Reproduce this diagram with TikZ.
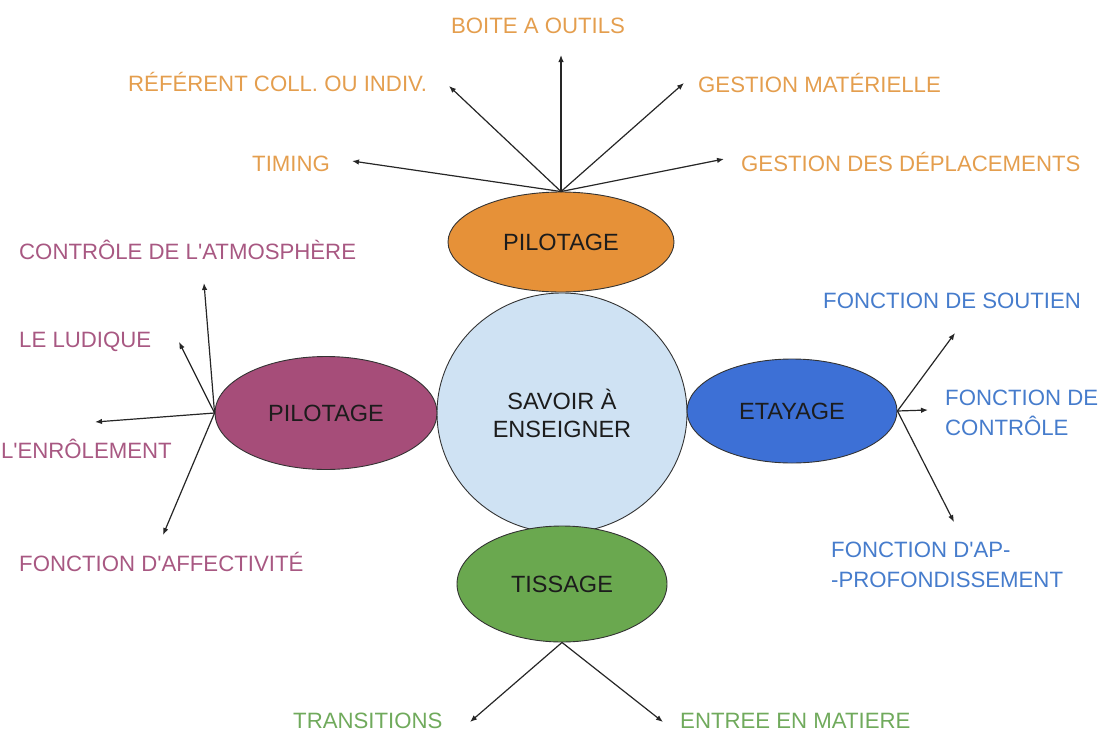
\documentclass[tikz,border=0pt]{standalone}
\usepackage{fontspec}
\setmainfont{Liberation Sans}
\newfontfamily\lib{Liberation Sans}
\usetikzlibrary{shapes.geometric,arrows.meta}
\definecolor{cOrange}{RGB}{230,145,56}
\definecolor{cPurple}{RGB}{166,77,121}
\definecolor{cCore}{RGB}{207,226,243}
\definecolor{cBlue}{RGB}{61,112,214}
\definecolor{cGreen}{RGB}{106,168,79}
\definecolor{tOrange}{RGB}{228,158,78}
\definecolor{tPurple}{RGB}{168,88,130}
\definecolor{tBlue}{RGB}{70,124,204}
\definecolor{tGreen}{RGB}{112,170,92}
\definecolor{txt}{RGB}{28,28,28}
\begin{document}
\begin{tikzpicture}[x=1pt,y=-1pt,
  arr/.style={draw=black!85,line width=1.2pt,-{Latex[length=7pt,width=5.5pt]}},
  blob/.style={ellipse,draw=black!80,line width=0.9pt,inner sep=0pt,text=txt,
    font=\lib\fontsize{23.5}{28}\selectfont,align=center},
  lab/.style={font=\lib\fontsize{22.2}{29.5}\selectfont,inner sep=0pt,align=left},
]
\useasboundingbox (0,0) rectangle (1098,731);
\clip (0,0) rectangle (1098,731);

% central shapes
\node[blob,fill=cCore,minimum width=250pt,minimum height=240pt] (core) at (562,413) {SAVOIR À\\ENSEIGNER};
\node[blob,fill=cOrange,minimum width=226pt,minimum height=100pt] (ptop) at (561,242) {PILOTAGE};
\node[blob,fill=cPurple,minimum width=222pt,minimum height=113pt] (pleft) at (326,413) {PILOTAGE};
\node[blob,fill=cBlue,minimum width=210pt,minimum height=104pt] (eta) at (792,411) {ETAYAGE};
\node[blob,fill=cGreen,minimum width=210pt,minimum height=116pt] (tis) at (562,584) {TISSAGE};

% arrow end points
\coordinate (tBoite) at (561,55);
\coordinate (tRef) at (449,86);
\coordinate (tMat) at (684,83);
\coordinate (tTim) at (352,161);
\coordinate (tDep) at (724,159);
\coordinate (lAtm) at (204,283);
\coordinate (lLud) at (179,342);
\coordinate (lEnr) at (95,422);
\coordinate (lAff) at (163,535);
\coordinate (rSou) at (955,333);
\coordinate (rCon) at (928,410);
\coordinate (rApp) at (954,522);
\coordinate (bTra) at (470,722);
\coordinate (bEnt) at (663,722);

\foreach \e in {tBoite,tRef,tMat,tTim,tDep} \draw[arr] (ptop.north) -- (\e);
\foreach \e in {lAtm,lLud,lEnr,lAff} \draw[arr] (pleft.west) -- (\e);
\foreach \e in {rSou,rCon,rApp} \draw[arr] (eta.east) -- (\e);
\foreach \e in {bTra,bEnt} \draw[arr] (tis.south) -- (\e);

% labels
\node[lab,text=tOrange,anchor=base] (Lboite) at (538,33) {BOITE A OUTILS};
\node[lab,text=tOrange,anchor=base west] (Lref) at (128,91) {RÉFÉRENT COLL. OU INDIV.};
\node[lab,text=tOrange,anchor=base west] (Lmat) at (698,92) {GESTION MATÉRIELLE};
\node[lab,text=tOrange,anchor=base west] (Ltim) at (252,171) {TIMING};
\node[lab,text=tOrange,anchor=base west] (Ldep) at (741,171) {GESTION DES DÉPLACEMENTS};

\node[lab,text=tPurple,anchor=base west] (Latm) at (19,259) {CONTRÔLE DE L'ATMOSPHÈRE};
\node[lab,text=tPurple,anchor=base west] (Llud) at (19,347) {LE LUDIQUE};
\node[lab,text=tPurple,anchor=base east] (Lenr) at (172,458) {L'ENRÔLEMENT};
\node[lab,text=tPurple,anchor=base west] (Laff) at (19,571) {FONCTION D'AFFECTIVITÉ};

\node[lab,text=tBlue,anchor=base west] (Lsou) at (823,308) {FONCTION DE SOUTIEN};
\node[lab,text=tBlue,anchor=west] (Lcon) at (945,413) {FONCTION DE\\CONTRÔLE};
\node[lab,text=tBlue,anchor=west] (Lapp) at (831,565) {FONCTION D'AP-\\-PROFONDISSEMENT};

\node[lab,text=tGreen,anchor=base west] (Ltra) at (293,728) {TRANSITIONS};
\node[lab,text=tGreen,anchor=base west] (Lent) at (680,728) {ENTREE EN MATIERE};
\end{tikzpicture}
\end{document}
